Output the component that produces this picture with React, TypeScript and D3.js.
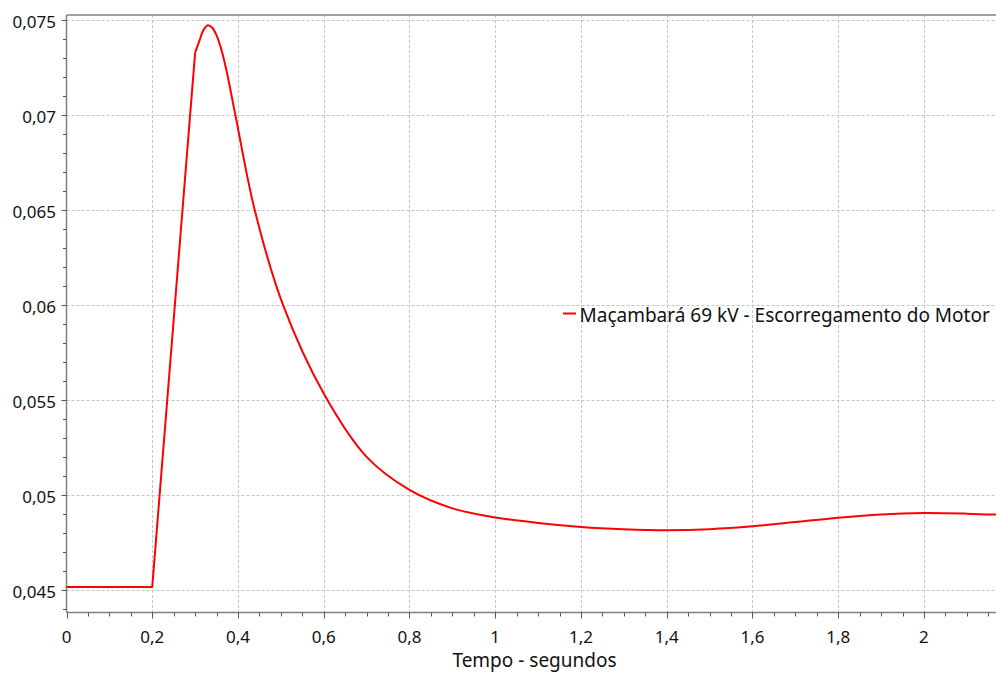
import React from "react";
import * as d3 from "d3";

const W = 996;
const H = 675;

// Data: time (s) and motor slip
const rampTime = [0, 0.2, 0.3];
const rampSlip = [0.04514, 0.04514, 0.0733];
const decayTime = [0.3, 0.311, 0.319, 0.33, 0.34, 0.35, 0.36, 0.373, 0.394, 0.439, 0.505, 0.6, 0.7, 0.8, 0.9, 1.0, 1.1, 1.2, 1.3, 1.4, 1.5, 1.6, 1.7, 1.8, 1.9, 2.0, 2.1, 2.168];
const decaySlip = [0.0733, 0.07398, 0.07447, 0.07474, 0.07461, 0.07421, 0.07355, 0.07237, 0.0700, 0.065, 0.060, 0.05533, 0.05199, 0.05025, 0.04928, 0.04880, 0.04851, 0.0483, 0.04818, 0.04813, 0.04818, 0.04833, 0.04856, 0.04879, 0.04896, 0.04903, 0.04900, 0.04895];

const xTicks = [0, 0.2, 0.4, 0.6, 0.8, 1, 1.2, 1.4, 1.6, 1.8, 2];
const yTicks = [0.045, 0.05, 0.055, 0.06, 0.065, 0.07, 0.075];
const seriesName = "Maçambará 69 kV - Escorregamento do Motor";
const xTitle = "Tempo - segundos";

const xMin = 0, xMax = 2.168;
const yMin = 0.04379, yMax = 0.07528;

const FONT = "'Noto Sans', 'Open Sans', sans-serif";

export default function App() {
  const left = 66.5, right = W, top = 15, bottom = 612.5;
  const x = d3.scaleLinear().domain([xMin, xMax]).range([left, right]);
  const y = d3.scaleLinear().domain([yMin, yMax]).range([bottom, top]);

  const fmt = (v: number) => d3.format("~g")(v).replace(".", ",");

  const xMinor = d3.range(0, xMax + 1e-9, 0.05).filter((v) => Math.abs(v / 0.2 - Math.round(v / 0.2)) > 1e-6);
  const yMinor = d3.range(0.044, yMax, 0.001).filter((v) => Math.abs(v / 0.005 - Math.round(v / 0.005)) > 1e-6);

  const lineLin = d3.line<number>().x((_, i) => x(rampTime[i])).y((d) => y(d)).curve(d3.curveLinear);
  const lineSmooth = d3.line<number>().x((_, i) => x(decayTime[i])).y((d) => y(d)).curve(d3.curveCatmullRom.alpha(0.5));

  const grid = "#c4c4c4";
  const axisColor = "#808080";

  return (
    <svg width={W} height={H} style={{ position: "absolute", left: 0, top: 0, background: "#fff" }} fontFamily={FONT}>
      <rect x={0} y={0} width={W} height={H} fill="#fff" />
      {/* grid */}
      {xTicks.filter((t) => t > 0).map((t) => (
        <line key={"gx" + t} x1={Math.round(x(t)) + 0.5} x2={Math.round(x(t)) + 0.5} y1={top} y2={bottom} stroke={grid} strokeDasharray="3,2" strokeWidth={1} />
      ))}
      {yTicks.map((t) => (
        <line key={"gy" + t} x1={left} x2={right} y1={Math.round(y(t)) + 0.5} y2={Math.round(y(t)) + 0.5} stroke={grid} strokeDasharray="3,2" strokeWidth={1} />
      ))}
      {/* axes */}
      <line x1={left} x2={right} y1={top} y2={top} stroke={axisColor} strokeWidth={1.5} />
      <line x1={left} x2={left} y1={top} y2={bottom} stroke={axisColor} strokeWidth={1.5} />
      <line x1={left} x2={right} y1={bottom} y2={bottom} stroke={axisColor} strokeWidth={1.5} />
      {/* x ticks */}
      {xTicks.map((t) => (
        <g key={"xt" + t}>
          <line x1={Math.round(x(t)) + 0.5} x2={Math.round(x(t)) + 0.5} y1={bottom} y2={bottom + 6} stroke="#555" />
          <text x={x(t)} y={643} textAnchor="middle" fontSize={17} fill="#111">{fmt(t)}</text>
        </g>
      ))}
      {xMinor.map((t) => (
        <line key={"xm" + t} x1={Math.round(x(t)) + 0.5} x2={Math.round(x(t)) + 0.5} y1={bottom} y2={bottom + 4} stroke="#555" />
      ))}
      {/* y ticks */}
      {yTicks.map((t) => (
        <g key={"yt" + t}>
          <line x1={left - 5} x2={left} y1={Math.round(y(t)) + 0.5} y2={Math.round(y(t)) + 0.5} stroke="#555" />
          <text x={56} y={y(t) + 8} textAnchor="end" fontSize={17} fill="#111">{fmt(t)}</text>
        </g>
      ))}
      {yMinor.map((t) => (
        <line key={"ym" + t} x1={left - 3.5} x2={left} y1={Math.round(y(t)) + 0.5} y2={Math.round(y(t)) + 0.5} stroke="#555" />
      ))}
      {/* series */}
      <path d={lineLin(rampSlip) || ""} fill="none" stroke="#ff0000" strokeWidth={2} strokeLinejoin="round" />
      <path d={lineSmooth(decaySlip) || ""} fill="none" stroke="#ff0000" strokeWidth={2} strokeLinejoin="round" />
      {/* legend */}
      <line x1={563} x2={576} y1={313.5} y2={313.5} stroke="#ff0000" strokeWidth={2} />
      <text x={579.5} y={322} fontSize={19} fill="#111">{seriesName}</text>
      {/* x title */}
      <text x={534.5} y={667} textAnchor="middle" fontSize={19} fill="#111">{xTitle}</text>
    </svg>
  );
}
